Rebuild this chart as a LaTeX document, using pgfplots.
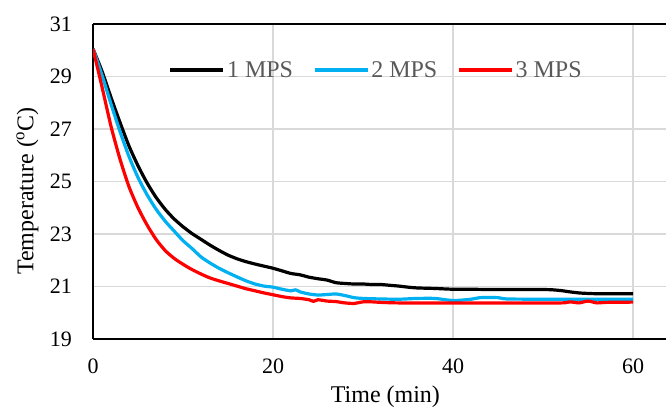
\documentclass[border=0pt]{standalone}
\usepackage{fontspec}
\setmainfont{Liberation Serif}
\usepackage{pgfplots}
\pgfplotsset{compat=1.18}
\definecolor{gridgray}{HTML}{D9D9D9}
\definecolor{mpsblue}{HTML}{00B0F0}
\definecolor{mpsred}{HTML}{FF0000}
\definecolor{legtext}{HTML}{595959}
\begin{document}
\begin{tikzpicture}
\begin{axis}[
  scale only axis, width=573pt, height=315pt,
  xmin=0, xmax=63.7, ymin=19, ymax=31,
  axis x line=box, axis y line=left,
  axis line style={-, black, line width=1.5pt},
  xtick={0,20,40,60}, ytick={19,21,...,31},
  major tick length=0pt,
  xmajorgrids, ymajorgrids,
  grid style={gridgray, line width=1.5pt},
  /pgf/number format/assume math mode=true,
  tick label style={font=\fontsize{22}{24}\selectfont, inner sep=0pt},
  yticklabel style={anchor=east, xshift=-21pt},
  xticklabel style={anchor=north, yshift=-20pt},
  xlabel={Time (min)}, ylabel={Temperature (\textsuperscript{o}C)},
  label style={font=\fontsize{24}{26}\selectfont, inner sep=0pt},
  xlabel style={at={(axis description cs:0.51,-0.149)}, anchor=north},
  ylabel style={at={(axis description cs:-0.134,0.47)}, rotate=0, anchor=north},
  legend columns=3,
  legend style={at={(0.494,0.854)}, anchor=center, draw=none, fill=none,
    font=\fontsize{24}{26}\selectfont, text=legtext,
    /tikz/every even column/.append style={column sep=18pt},
    inner sep=0pt, cells={inner sep=2pt}},
  legend image code/.code={\draw[#1] (0pt,0pt) -- (53pt,0pt);},
  every axis plot/.append style={line width=3.2pt, line join=round, smooth, tension=0.4},
  clip=true,
]
\addplot[black] coordinates {
(0,30.05)(1,29.2)(2,28.2)(3,27.25)(4,26.35)(5,25.6)(6,24.95)(7,24.4)(8,23.95)(9,23.58)
(10,23.28)(11,23.02)(12,22.8)(13,22.58)(14,22.38)(15,22.2)(16,22.06)(17,21.95)(18,21.86)(19,21.78)
(20,21.7)(21,21.6)(22,21.5)(23,21.45)(24,21.36)(25,21.3)(26,21.25)(27,21.15)(28,21.12)(29,21.1)
(30,21.1)(31,21.08)(32,21.08)(33,21.05)(34,21.02)(35,20.98)(36,20.95)(38,20.93)(40,20.9)(42,20.9)
(44,20.89)(46,20.89)(48,20.89)(50,20.89)(51,20.88)(52,20.85)(53,20.8)(54,20.76)(55,20.74)(56,20.73)
(58,20.73)(60,20.73)
};
\addlegendentry{1 MPS}
\addplot[mpsblue] coordinates {
(0,30.05)(1,29.05)(2,27.95)(3,26.9)(4,25.95)(5,25.15)(6,24.5)(7,23.95)(8,23.5)(9,23.12)
(10,22.75)(11,22.45)(12,22.13)(13,21.9)(14,21.7)(15,21.53)(16,21.37)(17,21.22)(18,21.1)(19,21.02)
(20,20.98)(21,20.9)(22,20.84)(22.5,20.88)(23,20.8)(24,20.72)(25,20.68)(26,20.7)(27,20.72)(28,20.66)
(29,20.58)(30,20.55)(32,20.53)(34,20.52)(36,20.55)(38,20.55)(40,20.47)(42,20.52)(43,20.58)(45,20.58)
(46,20.53)(50,20.52)(55,20.52)(60,20.52)
};
\addlegendentry{2 MPS}
\addplot[mpsred] coordinates {
(0,30.05)(1,28.6)(2,27.1)(3,25.85)(4,24.8)(5,24.0)(6,23.35)(7,22.8)(8,22.38)(9,22.08)
(10,21.85)(11,21.65)(12,21.48)(13,21.33)(14,21.22)(15,21.12)(16,21.02)(17,20.92)(18,20.84)(19,20.76)
(20,20.69)(21,20.62)(22,20.57)(23,20.55)(24,20.5)(24.5,20.44)(25,20.5)(26,20.45)(27,20.43)(28,20.38)
(29,20.36)(30,20.42)(31,20.42)(32,20.4)(34,20.38)(40,20.38)(46,20.38)(52,20.38)(53,20.42)(54,20.38)
(55,20.45)(56,20.38)(57,20.4)(60,20.41)
};
\addlegendentry{3 MPS}
\end{axis}
\pgfresetboundingbox
\path ([xshift=-93pt,yshift=-73pt]current axis.south west) rectangle ([xshift=0.7pt,yshift=24pt]current axis.north east);
\end{tikzpicture}
\end{document}
